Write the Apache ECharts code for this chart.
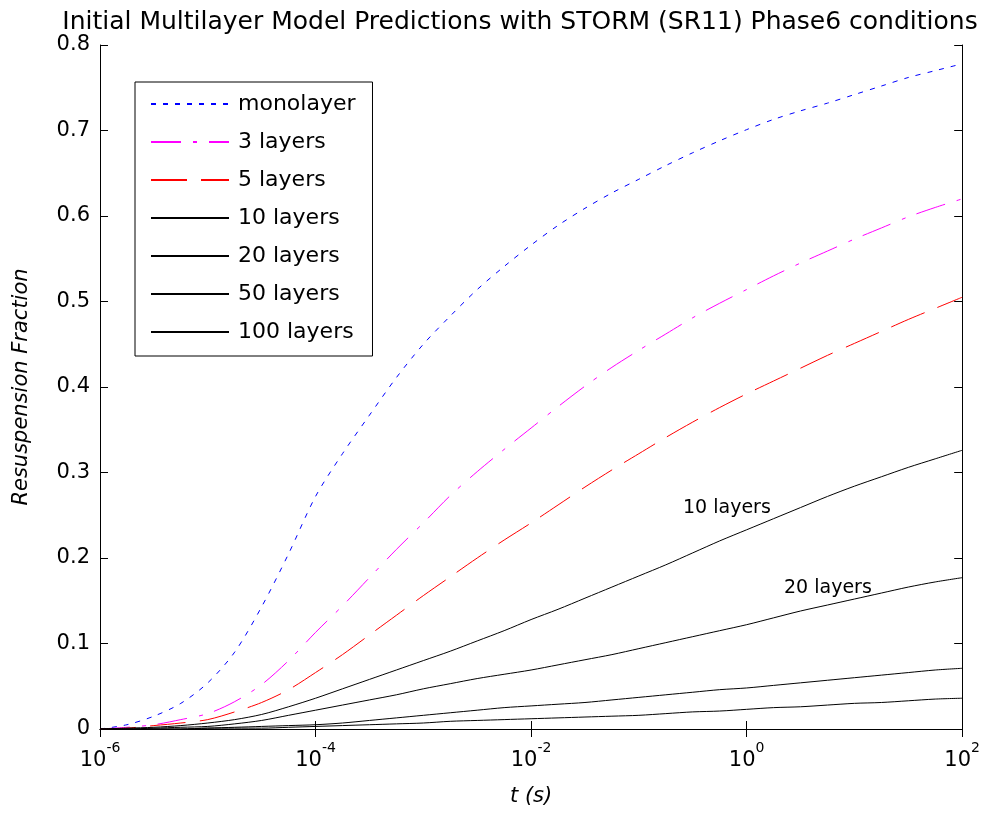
<!DOCTYPE html>
<html>
<head>
<meta charset="utf-8">
<title>Initial Multilayer Model Predictions</title>
<script src="https://cdn.jsdelivr.net/npm/echarts@6/dist/echarts.min.js"></script>
<style>
  html, body { margin: 0; padding: 0; background: #fff; }
  #chart { width: 983px; height: 813px; }
</style>
</head>
<body>
<div id="chart"></div>
<script>
// sample times, as log10(t) exponents
var logT = [-6, -5.75, -5.5, -5.25, -5, -4.75, -4.5, -4.25, -4, -3.75, -3.5, -3.25, -3, -2.75, -2.5, -2.25,
    -2, -1.75, -1.5, -1.25, -1, -0.75, -0.5, -0.25, 0, 0.25, 0.5, 0.75, 1, 1.25, 1.5, 1.75, 2];

var monolayer = [0.000, 0.005, 0.015, 0.030, 0.054, 0.090, 0.143, 0.205, 0.272, 0.322, 0.367, 0.411, 0.450,
    0.483, 0.514, 0.541, 0.566, 0.589, 0.609, 0.627, 0.643, 0.659, 0.674, 0.688, 0.701, 0.713, 0.723,
    0.732, 0.742, 0.752, 0.762, 0.770, 0.778];
var layers3 = [0.000, 0.002, 0.005, 0.011, 0.018, 0.032, 0.052, 0.080, 0.113, 0.144, 0.177, 0.210, 0.241,
    0.273, 0.301, 0.327, 0.352, 0.377, 0.401, 0.423, 0.443, 0.462, 0.481, 0.498, 0.514, 0.530, 0.545,
    0.559, 0.573, 0.586, 0.599, 0.610, 0.620];
var layers5 = [0.000, 0.001, 0.004, 0.007, 0.011, 0.020, 0.031, 0.046, 0.066, 0.087, 0.110, 0.133, 0.156,
    0.178, 0.200, 0.221, 0.241, 0.262, 0.283, 0.303, 0.322, 0.341, 0.359, 0.376, 0.392, 0.407, 0.422,
    0.437, 0.451, 0.465, 0.479, 0.492, 0.505];
var layers10 = [0.000, 0.001, 0.002, 0.004, 0.007, 0.011, 0.017, 0.026, 0.036, 0.047, 0.058, 0.069, 0.080,
    0.091, 0.103, 0.115, 0.128, 0.140, 0.153, 0.166, 0.179, 0.192, 0.206, 0.220, 0.233, 0.246, 0.259,
    0.272, 0.284, 0.295, 0.306, 0.316, 0.326];
var layers20 = [0.000, 0.000, 0.001, 0.002, 0.003, 0.006, 0.010, 0.016, 0.022, 0.028, 0.034, 0.040, 0.047,
    0.053, 0.059, 0.064, 0.069, 0.075, 0.081, 0.087, 0.094, 0.101, 0.108, 0.115, 0.122, 0.130, 0.138,
    0.145, 0.152, 0.159, 0.166, 0.172, 0.177];
var layers50 = [0.000, 0.000, 0.000, 0.000, 0.001, 0.002, 0.003, 0.004, 0.005, 0.007, 0.010, 0.013, 0.016,
    0.019, 0.022, 0.025, 0.027, 0.029, 0.031, 0.034, 0.037, 0.040, 0.043, 0.046, 0.048, 0.051, 0.054,
    0.057, 0.060, 0.063, 0.066, 0.069, 0.071];
var layers100 = [0.000, 0.000, 0.000, 0.000, 0.001, 0.001, 0.001, 0.002, 0.003, 0.004, 0.005, 0.006, 0.007,
    0.009, 0.010, 0.011, 0.012, 0.013, 0.014, 0.015, 0.016, 0.018, 0.020, 0.021, 0.023, 0.025, 0.026,
    0.028, 0.030, 0.031, 0.033, 0.035, 0.036];

var seriesNames = ['monolayer', '3 layers', '5 layers', '10 layers', '20 layers', '50 layers', '100 layers'];
var xTickExponents = [-6, -4, -2, 0, 2];
var yTicks = [0, 0.1, 0.2, 0.3, 0.4, 0.5, 0.6, 0.7, 0.8];

var FONT = 'DejaVu Sans';

function pairs(vals) {
    return logT.map(function (e, i) { return [Math.pow(10, e), vals[i]]; });
}

function lineSeries(name, vals, color, dash) {
    return {
        name: name,
        type: 'line',
        xAxisIndex: 0,
        yAxisIndex: 0,
        data: pairs(vals),
        symbol: 'none',
        smooth: 0.3,
        clip: false,
        animation: false,
        lineStyle: { color: color, width: 1, type: dash },
        itemStyle: { color: color }
    };
}

var chart = echarts.init(document.getElementById('chart'));

var xMin = Math.pow(10, xTickExponents[0]);
var xMax = Math.pow(10, xTickExponents[xTickExponents.length - 1]);

var option = {
    backgroundColor: '#fff',
    animation: false,
    textStyle: { fontFamily: FONT },
    title: {
        text: 'Initial Multilayer Model Predictions with STORM (SR11) Phase6 conditions',
        left: 515,
        textAlign: 'center',
        top: 5,
        textStyle: { fontFamily: FONT, fontSize: 25, fontWeight: 'normal', color: '#000' }
    },
    grid: { left: 100, right: 20, top: 45, bottom: 84 },
    legend: {
        orient: 'vertical',
        left: 135,
        top: 82,
        padding: [10, 17, 12, 15],
        itemWidth: 78,
        itemHeight: 14,
        itemGap: 14,
        borderColor: '#000',
        borderWidth: 1,
        backgroundColor: '#fff',
        itemStyle: { opacity: 0 },
        data: seriesNames,
        textStyle: { fontFamily: FONT, fontSize: 22, lineHeight: 24, color: '#000', padding: [0, 0, 0, 4] }
    },
    xAxis: [{
        type: 'log',
        logBase: 10,
        min: xMin,
        max: xMax,
        interval: 2,
        position: 'bottom',
        name: 't (s)',
        nameLocation: 'middle',
        nameGap: 57,
        nameTextStyle: { fontFamily: FONT, fontSize: 21, fontStyle: 'italic', color: '#000' },
        axisLine: { lineStyle: { color: '#000', width: 1 } },
        axisTick: { inside: true, length: 8, lineStyle: { color: '#000' } },
        minorTick: { show: false },
        splitLine: { show: false },
        axisLabel: {
            margin: 12,
            formatter: function (v) {
                return '{b|10}{s|' + Math.round(Math.log10(v)) + '}';
            },
            rich: {
                b: { fontFamily: FONT, fontSize: 21, color: '#000', verticalAlign: 'bottom', lineHeight: 30 },
                s: { fontFamily: FONT, fontSize: 14, color: '#000', verticalAlign: 'top', lineHeight: 30 }
            }
        }
    }, {
        type: 'log',
        logBase: 10,
        min: xMin,
        max: xMax,
        interval: 2,
        position: 'top',
        axisLine: { lineStyle: { color: '#000', width: 1 } },
        axisTick: { inside: true, length: 8, lineStyle: { color: '#000' } },
        axisLabel: { show: false },
        splitLine: { show: false }
    }],
    yAxis: [{
        type: 'value',
        min: yTicks[0],
        max: yTicks[yTicks.length - 1],
        interval: 0.1,
        position: 'left',
        name: 'Resuspension Fraction',
        nameLocation: 'middle',
        nameGap: 68,
        nameTextStyle: { fontFamily: FONT, fontSize: 21, fontStyle: 'italic', color: '#000' },
        axisLine: { show: true, lineStyle: { color: '#000', width: 1 } },
        axisTick: { show: true, inside: true, length: 8, lineStyle: { color: '#000' } },
        splitLine: { show: false },
        axisLabel: { margin: 10, fontFamily: FONT, fontSize: 21, color: '#000' }
    }, {
        type: 'value',
        min: yTicks[0],
        max: yTicks[yTicks.length - 1],
        interval: 0.1,
        position: 'right',
        axisLine: { show: true, lineStyle: { color: '#000', width: 1 } },
        axisTick: { show: true, inside: true, length: 8, lineStyle: { color: '#000' } },
        splitLine: { show: false },
        axisLabel: { show: false }
    }],
    graphic: [
        { type: 'text', left: 683, top: 499, style: { text: '10 layers', fontFamily: FONT, fontSize: 19, fill: '#000' } },
        { type: 'text', left: 784, top: 579, style: { text: '20 layers', fontFamily: FONT, fontSize: 19, fill: '#000' } }
    ],
    series: [
        lineSeries(seriesNames[0], monolayer, '#0000ff', [5, 7]),
        lineSeries(seriesNames[1], layers3, '#ff00ff', [30, 12, 4, 12]),
        lineSeries(seriesNames[2], layers5, '#ff0000', [36, 14]),
        lineSeries(seriesNames[3], layers10, '#000000', 'solid'),
        lineSeries(seriesNames[4], layers20, '#000000', 'solid'),
        lineSeries(seriesNames[5], layers50, '#000000', 'solid'),
        lineSeries(seriesNames[6], layers100, '#000000', 'solid')
    ]
};

chart.setOption(option);
</script>
</body>
</html>
